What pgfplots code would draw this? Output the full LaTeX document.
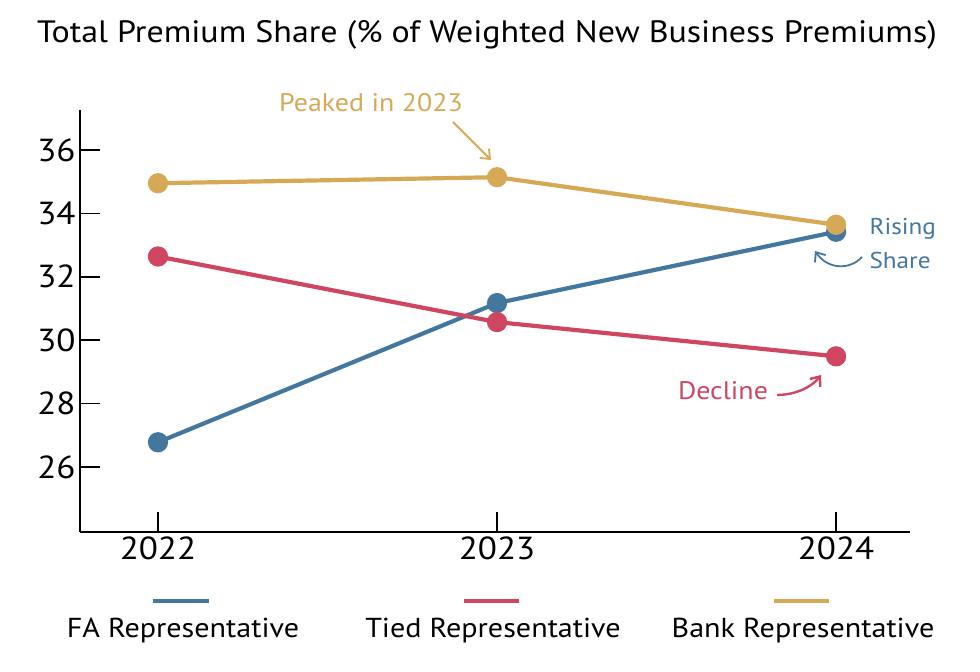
\documentclass[border=0pt]{standalone}
\usepackage{pgfplots}
\pgfplotsset{compat=1.18}
\usepackage{fontspec}
\setmainfont{PT Sans}[FakeStretch=1.1]
\usetikzlibrary{arrows.meta}
\definecolor{faBlue}{HTML}{44779E}
\definecolor{tiedRed}{HTML}{CE4660}
\definecolor{bankGold}{HTML}{D6A956}
\begin{document}
\begin{tikzpicture}[x=1bp,y=1bp]
\path[use as bounding box] (-80,-140) rectangle (900,532);
\begin{axis}[
  at={(0,0)}, anchor=south west,
  scale only axis, width=830bp, height=422bp,
  xmin=-0.23, xmax=2.218, ymin=23.95, ymax=37.26,
  axis x line*=bottom, axis y line*=left,
  xtick={0,1,2}, xticklabels={2022,2023,2024},
  ytick={26,28,30,32,34,36},
  tick align=inside, major tick length=20bp,
  axis line style={line width=2.5bp, black},
  every tick/.style={line width=1.5bp, black},
  /pgf/number format/assume math mode=true,
  tick label style={font=\fontsize{32}{36}\selectfont, black},
  xticklabel style={yshift=-1bp},
  yticklabel style={xshift=-1bp},
  clip=false,
]
\addplot[faBlue, line width=4.2bp, mark=*, mark size=8bp, mark options={solid}] coordinates {(0,26.78) (1,31.17) (2,33.42)};
\addplot[tiedRed, line width=4.2bp, mark=*, mark size=8bp] coordinates {(0,32.64) (1,30.57) (2,29.49)};
\addplot[bankGold, line width=4.2bp, mark=*, mark size=8bp] coordinates {(0,34.95) (1,35.14) (2,33.64)};
\end{axis}
% title
\node[font=\fontsize{31}{36}\selectfont] at (407,497) {Total Premium Share (\% of Weighted New Business Premiums)};
% annotations
\node[text=bankGold, font=\fontsize{25.5}{30}\selectfont] at (291,429) {Peaked in 2023};
\draw[bankGold, line width=1.8bp, -{Straight Barb[length=8bp,width=13bp]}] (373,410) -- (411,372);
\node[text=faBlue, font=\fontsize{23}{28}\selectfont, anchor=west] at (786,303) {Rising};
\node[text=faBlue, font=\fontsize{23}{28}\selectfont, anchor=west] at (786,272) {Share};
\draw[faBlue, line width=1.8bp, -{Straight Barb[length=8bp,width=13bp]}] (782,275) .. controls (770,262) and (748,262) .. (735,281);
\node[text=tiedRed, font=\fontsize{25.5}{30}\selectfont] at (643,141) {Decline};
\draw[tiedRed, line width=2.4bp, -{Straight Barb[length=8bp,width=13bp]}] (697,137) .. controls (715,137) and (732,145) .. (741,157);
% legend
\draw[faBlue, line width=4.5bp] (73,-69) -- (129,-69);
\draw[tiedRed, line width=4.5bp] (384,-69) -- (439,-69);
\draw[bankGold, line width=4.5bp] (694,-69) -- (749,-69);
\node[font=\fontsize{27.5}{32}\selectfont] at (103,-99) {FA Representative};
\node[font=\fontsize{27.5}{32}\selectfont] at (413,-99) {Tied Representative};
\node[font=\fontsize{27.5}{32}\selectfont] at (723,-99) {Bank Representative};
\end{tikzpicture}
\end{document}
